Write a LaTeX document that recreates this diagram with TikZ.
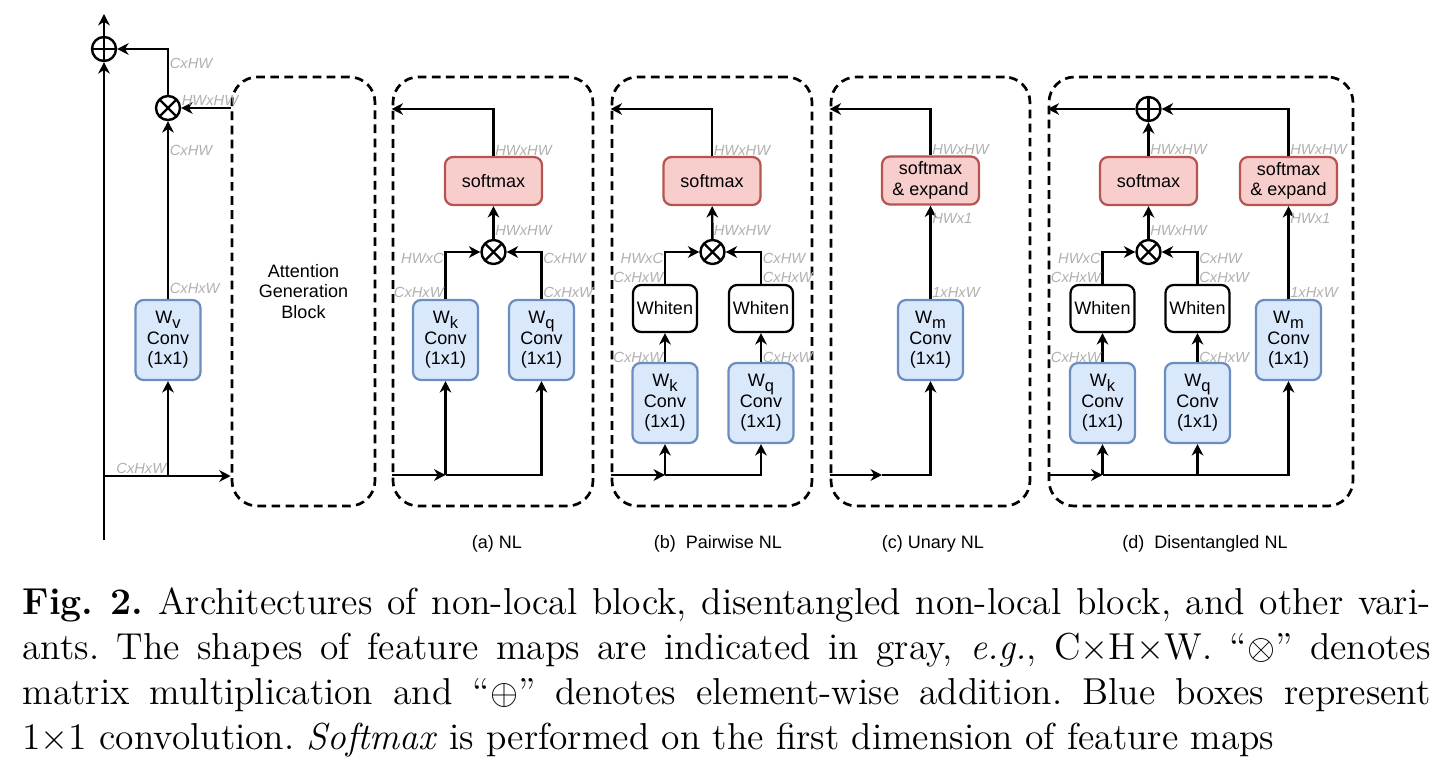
\documentclass[tikz,border=0pt]{standalone}
\usepackage{fontspec}
\newfontfamily\arialf{Liberation Sans}
\usetikzlibrary{arrows.meta}
\definecolor{convfill}{HTML}{DAE8FC}
\definecolor{convline}{HTML}{6C8EBF}
\definecolor{softfill}{HTML}{F8CECC}
\definecolor{softline}{HTML}{B85450}
\definecolor{dimgray}{HTML}{B0B0B0}
\newcommand\wsub[1]{W\raisebox{-0.45ex}{\fontsize{5.5}{5.5}\selectfont #1}}
\frenchspacing
\begin{document}
\begin{tikzpicture}[x=0.3333pt, y=-0.3333pt,
    arr/.style={-{Stealth[length=3.8pt,width=3.9pt,inset=1.2pt]}, line width=0.8pt},
    boxfont/.style={font=\arialf\fontsize{6}{6.8}\selectfont, align=center},
    convbox/.style={boxfont, draw=convline, fill=convfill, line width=0.75pt, rounded corners=2.7pt,
        minimum width=21.67pt, minimum height=26.67pt, inner sep=0pt},
    whitebox/.style={boxfont, draw, line width=0.75pt, rounded corners=2.7pt,
        minimum width=21.33pt, minimum height=15.67pt, inner sep=0pt},
    softbox/.style={boxfont, draw=softline, fill=softfill, line width=0.75pt, rounded corners=2.7pt,
        minimum width=32.33pt, minimum height=16pt, inner sep=0pt},
    opnode/.style={circle, draw, line width=0.8pt, minimum size=8pt, inner sep=0pt, fill=white},
    addop/.style={opnode, path picture={\draw[line width=0.8pt]
        (path picture bounding box.north) -- (path picture bounding box.south)
        (path picture bounding box.west) -- (path picture bounding box.east);}},
    mulop/.style={opnode, path picture={\draw[line width=0.8pt]
        (path picture bounding box.north west) -- (path picture bounding box.south east)
        (path picture bounding box.north east) -- (path picture bounding box.south west);}},
    dashblock/.style={boxfont, draw, dash pattern=on 2.9pt off 1.8pt, line width=0.9pt,
        rounded corners=8.5pt, minimum height=143pt, inner sep=0pt},
    dimr/.style={font=\arialf\itshape\fontsize{4.9}{5}\selectfont, text=dimgray,
        anchor=west, inner xsep=0.4pt, inner ysep=0pt},
    diml/.style={dimr, anchor=east},
    sublab/.style={font=\arialf\fontsize{6}{7}\selectfont}]
\useasboundingbox (0,0) rectangle (1455,773);

% shared input, value branch and residual
\node[addop] (addL) at (104,49) {};
\node[mulop] (mulL) at (168,108) {};
\node[convbox] (wv) at (168,340) {\wsub{v}\\Conv\\(1x1)};
\node[dashblock, minimum width=143pt/3] (agb) at (303.5,291.5) {Attention\\Generation\\Block};
\coordinate (bot) at (104,540);
\coordinate (top) at (104,14);
\coordinate (split) at (168,476);
\draw[arr] (bot) -- (addL);
\draw[arr] (addL) -- (top);
\draw[arr] (bot |- split) -- (agb.west |- split);
\draw[arr] (split) -- (wv);
\draw[arr] (wv) -- (mulL);
\draw[arr] (mulL) |- (addL);
\draw[arr] (agb.west |- mulL) -- (mulL);
\node[dimr] (dl1) at (168,63) {CxHW};
\node[dimr] (dl2) at (180,100) {HWxHW};
\node[dimr] (dl3) at (168,150) {CxHW};
\node[dimr] (dl4) at (168,288) {CxHxW};
\node[diml] (dl5) at (168,468) {CxHxW};

% (a) NL
\node[dashblock, minimum width=200pt/3] (blka) at (493,291.5) {};
\node[convbox] (ka) at (445.5,340) {\wsub{k}\\Conv\\(1x1)};
\node[convbox] (qa) at (541.5,340) {\wsub{q}\\Conv\\(1x1)};
\node[mulop] (mula) at (493.5,252) {};
\node[softbox] (sma) at (493.5,181) {softmax};
\coordinate (ina) at (445.5,475);
\coordinate (outa) at (493.5,109);
\draw[arr] (blka.west |- ina) -- (ina);
\draw[arr] (ina) -- (ka);
\draw[arr] (ina) -| (qa);
\draw[arr] (ka) |- (mula);
\draw[arr] (qa) |- (mula);
\draw[arr] (mula) -- (sma);
\draw[arr] (sma) |- (blka.west |- outa);
\node[dimr] (da1) at (493.5,150) {HWxHW};
\node[dimr] (da2) at (493.5,230) {HWxHW};
\node[diml] (da3) at (445.5,258) {HWxC};
\node[dimr] (da4) at (541.5,258) {CxHW};
\node[diml] (da5) at (445.5,292) {CxHxW};
\node[dimr] (da6) at (541.5,292) {CxHxW};
\node[sublab] (capa) at (497,544) {(a) NL};

% (b) Pairwise NL
\node[dashblock, minimum width=200pt/3] (blkb) at (712,291.5) {};
\node[convbox] (kb) at (665,403) {\wsub{k}\\Conv\\(1x1)};
\node[convbox] (qb) at (761,403) {\wsub{q}\\Conv\\(1x1)};
\node[whitebox] (whkb) at (665,308.5) {Whiten};
\node[whitebox] (whqb) at (761,308.5) {Whiten};
\node[mulop] (mulb) at (712.5,252) {};
\node[softbox] (smb) at (712,181) {softmax};
\coordinate (inb) at (665,475);
\coordinate (outb) at (712,109);
\draw[arr] (blkb.west |- inb) -- (inb);
\draw[arr] (inb) -- (kb);
\draw[arr] (inb) -| (qb);
\draw[arr] (kb) -- (whkb);
\draw[arr] (qb) -- (whqb);
\draw[arr] (whkb) |- (mulb);
\draw[arr] (whqb) |- (mulb);
\draw[arr] (mulb) -- (smb);
\draw[arr] (smb) |- (blkb.west |- outb);
\node[dimr] (db1) at (712,150) {HWxHW};
\node[dimr] (db2) at (712,230) {HWxHW};
\node[diml] (db3) at (665,258) {HWxC};
\node[diml] (db4) at (665,277) {CxHxW};
\node[dimr] (db5) at (761,258) {CxHW};
\node[dimr] (db6) at (761,277) {CxHxW};
\node[diml] (db7) at (665,357) {CxHxW};
\node[dimr] (db8) at (761,357) {CxHxW};
\node[sublab] (capb) at (718,544) {(b)\ \ Pairwise NL};

% (c) Unary NL
\node[dashblock, minimum width=199pt/3] (blkc) at (930.5,291.5) {};
\node[convbox] (wmc) at (930.5,340) {\wsub{m}\\Conv\\(1x1)};
\node[softbox] (sec) at (930.5,180.5) {softmax\\\& expand};
\coordinate (inc) at (882,475);
\coordinate (outc) at (930.5,109);
\draw[arr] (blkc.west |- inc) -- (inc);
\draw[arr] (inc) -| (wmc);
\draw[arr] (wmc) -- (sec);
\draw[arr] (sec) |- (blkc.west |- outc);
\node[dimr] (dc1) at (930.5,149) {HWxHW};
\node[dimr] (dc2) at (930.5,218) {HWx1};
\node[dimr] (dc3) at (930.5,292) {1xHxW};
\node[sublab] (capc) at (933,544) {(c) Unary NL};

% (d) Disentangled NL
\node[dashblock, minimum width=304pt/3] (blkd) at (1201,291.5) {};
\node[convbox] (kd) at (1102.5,403) {\wsub{k}\\Conv\\(1x1)};
\node[convbox] (qd) at (1197.5,403) {\wsub{q}\\Conv\\(1x1)};
\node[convbox] (wmd) at (1288.5,340) {\wsub{m}\\Conv\\(1x1)};
\node[whitebox] (whkd) at (1102.5,308.5) {Whiten};
\node[whitebox] (whqd) at (1197.5,308.5) {Whiten};
\node[mulop] (muld) at (1148.5,252) {};
\node[softbox] (smd) at (1148.5,181) {softmax};
\node[softbox] (sed) at (1288.5,181) {softmax\\\& expand};
\node[addop] (addd) at (1148.5,109) {};
\coordinate (ind) at (1102.5,475);
\coordinate (jd) at (1197.5,475);
\draw[arr] (blkd.west |- ind) -- (ind);
\draw[arr] (ind) -- (kd);
\draw[arr] (ind) -| (wmd);
\draw[arr] (jd) -- (qd);
\draw[arr] (kd) -- (whkd);
\draw[arr] (qd) -- (whqd);
\draw[arr] (whkd) |- (muld);
\draw[arr] (whqd) |- (muld);
\draw[arr] (muld) -- (smd);
\draw[arr] (smd) -- (addd);
\draw[arr] (wmd) -- (sed);
\draw[arr] (sed) |- (addd);
\draw[arr] (addd) -- (blkd.west |- addd);
\node[dimr] (dd1) at (1148.5,149) {HWxHW};
\node[dimr] (dd2) at (1148.5,230) {HWxHW};
\node[diml] (dd3) at (1102.5,258) {HWxC};
\node[diml] (dd4) at (1102.5,277) {CxHxW};
\node[dimr] (dd5) at (1197.5,258) {CxHW};
\node[dimr] (dd6) at (1197.5,277) {CxHxW};
\node[diml] (dd7) at (1102.5,357) {CxHxW};
\node[dimr] (dd8) at (1197.5,357) {CxHxW};
\node[dimr] (dd9) at (1288.5,149) {HWxHW};
\node[dimr] (dd10) at (1288.5,218) {HWx1};
\node[dimr] (dd11) at (1288.5,292) {1xHxW};
\node[sublab] (capd) at (1205,544) {(d)\ \ Disentangled NL};

% figure caption
\node[anchor=north west, inner sep=0pt, text width=469.3pt, align=justify,
    font=\fontsize{12.5}{15}\selectfont] (figcap) at (22,587)
  {\textbf{Fig.\ 2.} Architectures of non-local block, disentangled non-local block, and other vari-\linebreak
   ants. The shapes of feature maps are indicated in gray, \textit{e.g.}, C$\times$H$\times$W. ``$\otimes$'' denotes\linebreak
   matrix multiplication and ``$\oplus$'' denotes element-wise addition. Blue boxes represent\linebreak
   1$\times$1 convolution. \textit{Softmax} is performed on the first dimension of feature maps};
\end{tikzpicture}
\end{document}
